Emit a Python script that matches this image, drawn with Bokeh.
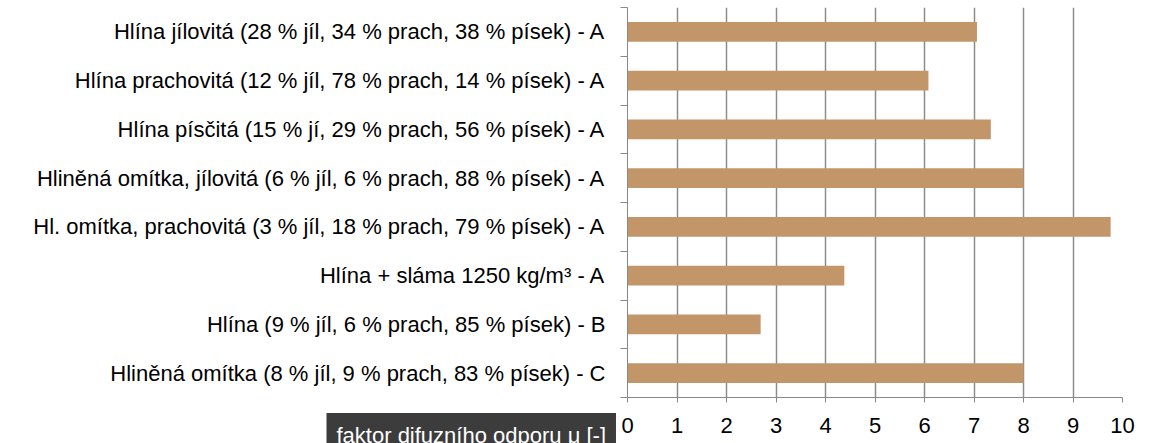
from bokeh.plotting import figure
from bokeh.models import ColumnDataSource, Range1d, FixedTicker, Title
from bokeh.embed import file_html
from bokeh.resources import INLINE

categories = [
    "Hlína jílovitá (28 % jíl, 34 % prach, 38 % písek) - A",
    "Hlína prachovitá (12 % jíl, 78 % prach, 14 % písek) - A",
    "Hlína písčitá (15 % jí, 29 % prach, 56 % písek) - A",
    "Hliněná omítka, jílovitá (6 % jíl, 6 % prach, 88 % písek) - A",
    "Hl. omítka, prachovitá (3 % jíl, 18 % prach, 79 % písek) - A",
    "Hlína + sláma 1250 kg/m³ - A",
    "Hlína (9 % jíl, 6 % prach, 85 % písek) - B",
    "Hliněná omítka (8 % jíl, 9 % prach, 83 % písek) - C",
]
values = [7.06, 6.08, 7.34, 8.0, 9.76, 4.38, 2.69, 8.0]
x_ticks = list(range(0, 11))
axis_title = "faktor difuzního odporu μ [-]"

W = 1150
H = 443
LEFT = 627
TOP = 7
FRAME_W = 495
FRAME_H = 390

FONT = "Liberation Sans"
FS = "22px"
GRAY = "#888888"

n = len(categories)
ypos = list(range(n))
src = ColumnDataSource(dict(y=ypos, v=values, name=categories))

p = figure(width=W, height=H, output_backend="svg", toolbar_location=None,
           x_range=Range1d(x_ticks[0], x_ticks[-1]), y_range=Range1d(n - 0.5, -0.5),
           min_border_left=LEFT, min_border_right=W - LEFT - FRAME_W,
           min_border_top=TOP, min_border_bottom=H - TOP - FRAME_H)
p.outline_line_color = None
p.background_fill_color = "white"
p.border_fill_color = "white"

p.hbar(y="y", right="v", left=0, height=0.405, source=src,
       fill_color="#C3966A", line_color=None)

# x axis
p.xaxis.ticker = FixedTicker(ticks=x_ticks)
p.xaxis.axis_line_color = GRAY
p.xaxis.major_tick_line_color = GRAY
p.xaxis.major_tick_out = 5
p.xaxis.major_tick_in = 0
p.xaxis.minor_tick_line_color = None
p.xaxis.major_label_text_font = FONT
p.xaxis.major_label_text_font_size = FS
p.xaxis.major_label_text_color = "black"
p.xaxis.major_label_standoff = 15

p.xgrid.ticker = FixedTicker(ticks=x_ticks)
p.xgrid.grid_line_color = "#8c8c8c"
p.xgrid.grid_line_width = 1.5
p.ygrid.grid_line_color = None

# y axis: labels at centres, tick marks at boundaries
p.yaxis.ticker = FixedTicker(ticks=ypos, minor_ticks=[i - 0.5 for i in range(n + 1)])
p.yaxis.major_label_overrides = {i: c for i, c in zip(ypos, categories)}
p.yaxis.major_tick_line_color = None
p.yaxis.major_tick_out = 0
p.yaxis.major_tick_in = 0
p.yaxis.minor_tick_line_color = GRAY
p.yaxis.minor_tick_out = 7
p.yaxis.minor_tick_in = 0
p.yaxis.axis_line_color = GRAY
p.yaxis.major_label_text_font = FONT
p.yaxis.major_label_text_font_size = FS
p.yaxis.major_label_text_color = "black"
p.yaxis.major_label_standoff = 15

# axis title: dark box left of the tick labels (side-panel title, pulled up
# into the tick-label row)
t_kw = dict(text=axis_title, align="left", vertical_align="middle",
            offset=-301, standoff=-50,
            text_font=FONT, text_font_size=FS, text_font_style="normal",
            text_color="white", background_fill_color="#3c3c3c")
try:
    ttl = Title(padding=10, **t_kw)
except Exception:
    ttl = Title(**t_kw)
p.add_layout(ttl, "below")

open("out.html", "w").write(file_html(p, INLINE))
